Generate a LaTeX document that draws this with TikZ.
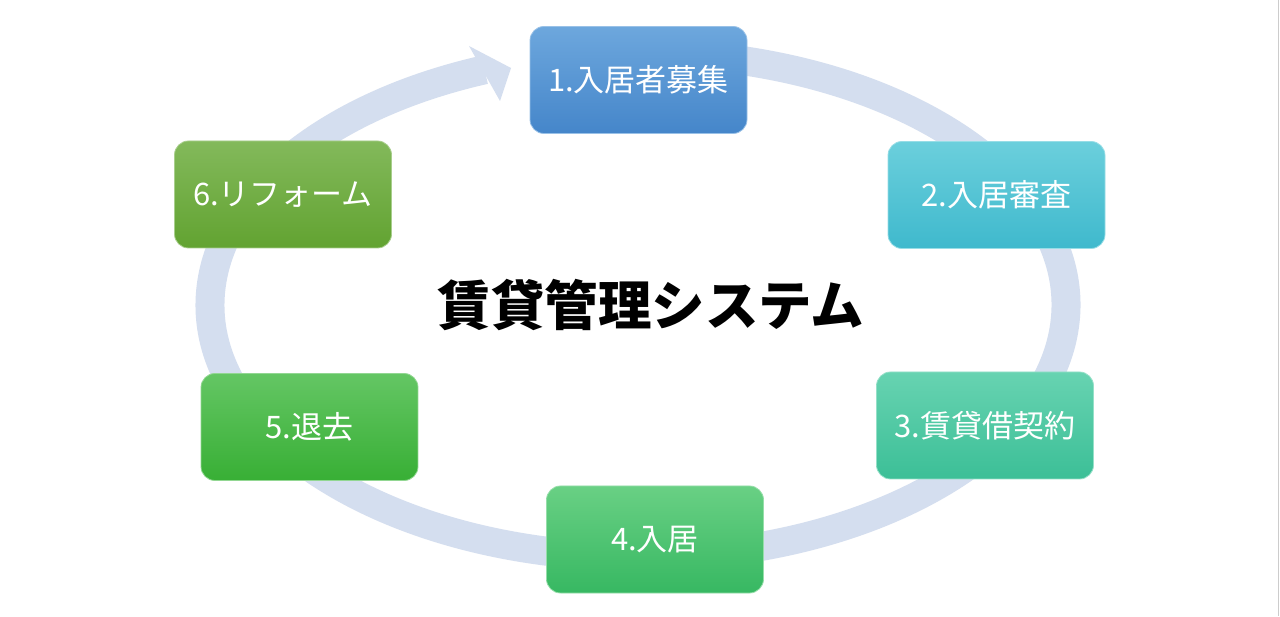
\documentclass[tikz,border=0pt]{standalone}
\usepackage{fontspec}
\setmainfont{Noto Sans CJK JP}
\definecolor{ringc}{HTML}{D4DEEF}
\definecolor{aT}{HTML}{6DA7DD}\definecolor{aB}{HTML}{4586CA}
\definecolor{bT}{HTML}{6BCFDC}\definecolor{bB}{HTML}{3FB9CD}
\definecolor{cT}{HTML}{67D3B1}\definecolor{cB}{HTML}{3CBF97}
\definecolor{dT}{HTML}{69D084}\definecolor{dB}{HTML}{37B862}
\definecolor{eT}{HTML}{64C664}\definecolor{eB}{HTML}{38AF35}
\definecolor{fT}{HTML}{83B95B}\definecolor{fB}{HTML}{62A331}
\tikzset{
  stagebox/.style 2 args={rounded corners=14pt, minimum width=217pt, minimum height=107pt,
    inner sep=0pt, text=white, font=\fontsize{31}{36}\selectfont,
    top color=#1, bottom color=#2, draw=#1!70!white, line width=0.8pt},
  ring/.style={draw=ringc, line width=29pt},
  title/.style={font=\fontsize{53.5}{60}\selectfont\bfseries, text=black}
}
\begin{document}
\begin{tikzpicture}[x=1pt,y=1pt]
\useasboundingbox (0,0) rectangle (1280,616);
\fill[white] (0,0) rectangle (1280,616);
\draw[gray!40, line width=1.5pt] (1278.5,0) -- (1278.5,616);
% ring
\coordinate (E) at (638,311);
\draw[ring] ([shift={(85:428pt and 252pt)}]E) arc[start angle=85, end angle=-249, x radius=428pt, y radius=252pt];
\coordinate (tipA) at (511,548);
\coordinate (tipB) at (469,570);
\coordinate (tipC) at (500,515);
\fill[ringc] (tipA) -- (tipB) -- (tipC) -- cycle;
% boxes
\node[stagebox={aT}{aB}] (s1) at (638.5,536) {1.入居者募集};
\node[stagebox={bT}{bB}] (s2) at (996.5,421) {2.入居審査};
\node[stagebox={cT}{cB}] (s3) at (985,190.5) {3.賃貸借契約};
\node[stagebox={dT}{dB}] (s4) at (655,76.5) {4.入居};
\node[stagebox={eT}{eB}] (s5) at (309.5,189) {5.退去};
\node[stagebox={fT}{fB}] (s6) at (283,421.5) {6.リフォーム};
\node[title] (t) at (651,311) {賃貸管理システム};
\end{tikzpicture}
\end{document}
